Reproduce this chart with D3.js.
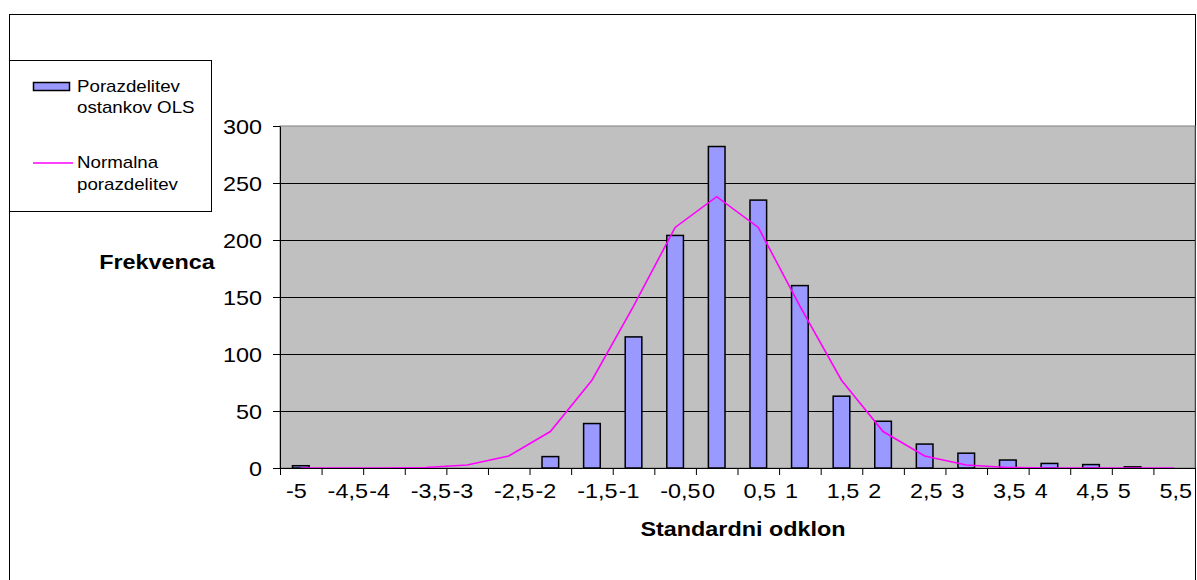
<!DOCTYPE html>
<html>
<head>
<meta charset="utf-8">
<script src="https://cdn.jsdelivr.net/npm/d3@7"></script>
<style>
  body { margin: 0; background: #fff; }
  text { font-family: Arial, "Liberation Sans", sans-serif; }
</style>
</head>
<body>
<div id="chart-area"></div>
<script>
// categories (standard deviation bins) and the two series
var categories = ["-5","-4,5","-4","-3,5","-3","-2,5","-2","-1,5","-1","-0,5","0",
                  "0,5","1","1,5","2","2,5","3","3,5","4","4,5","5","5,5"];
var ostanki = [2,0,0,0,0,0,10,39,115,204,282,235,160,63,41,21,13,7,4,3,1,0];
var normalna = [0,0,0,0.4,2.6,10.5,32,77,142,211,238,211,142,77,32,10.5,2.6,0.4,0,0,0,0];
var yTicks = [0,50,100,150,200,250,300];

var margin = {top: 126, right: 2, bottom: 112, left: 280};
var width = 1197 - margin.left - margin.right;
var height = 580 - margin.top - margin.bottom;
var sx = 1.17; // text in the picture is a bit wide

var svg = d3.select("#chart-area")
    .append("svg")
    .attr("width", 1197)
    .attr("height", 580);

// outer chart border
svg.append("rect")
    .attr("x", 9.5).attr("y", 14.5)
    .attr("width", 1186).attr("height", 600)
    .attr("fill", "none").attr("stroke", "#000");

var g = svg.append("g")
    .attr("transform", "translate(" + margin.left + ", " + margin.top + ")");

var x = d3.scaleBand()
    .domain(categories)
    .range([0, width]);

var xEdge = d3.scaleLinear()
    .domain([0, categories.length])
    .range([0, width]);

var y = d3.scaleLinear()
    .domain([0, 300])
    .range([height, 0]);

// plot area
g.append("rect")
    .attr("width", width)
    .attr("height", height)
    .attr("fill", "#c0c0c0")
    .attr("stroke", "#808080");

// gridlines
g.selectAll(".grid").data(yTicks.filter((d) => { return d > 0 && d < 300; }))
    .enter().append("line")
    .attr("class", "grid")
    .attr("x1", 0).attr("x2", width)
    .attr("y1", (d) => { return Math.round(y(d)) + 0.5; })
    .attr("y2", (d) => { return Math.round(y(d)) + 0.5; })
    .attr("stroke", "#000");

// bars
var barW = x.bandwidth() * 0.4;
g.selectAll(".bar").data(ostanki)
    .enter().append("rect")
    .attr("class", "bar")
    .attr("x", (d, i) => { return x(categories[i]) + (x.bandwidth() - barW) / 2; })
    .attr("y", (d) => { return y(d); })
    .attr("width", barW)
    .attr("height", (d) => { return height - y(d); })
    .attr("fill", "#9999ff")
    .attr("stroke", "#000")
    .attr("stroke-width", 1.5);

// normal curve
var line = d3.line()
    .x((d, i) => { return x(categories[i]) + x.bandwidth() / 2; })
    .y((d) => { return y(d); });

g.append("path")
    .datum(normalna)
    .attr("d", line)
    .attr("fill", "none")
    .attr("stroke", "#ff00ff")
    .attr("stroke-width", 1.6);

// left y axis
var yAxisCall = d3.axisLeft(y)
    .tickValues(yTicks)
    .tickSize(7)
    .tickSizeOuter(0);

var yAx = g.append("g")
    .attr("class", "left axis")
    .call(yAxisCall)
    .attr("font-size", 20)
    .attr("font-family", "Arial, 'Liberation Sans', sans-serif");
yAx.selectAll("text")
    .attr("x", -18 / sx)
    .attr("dy", "0.36em")
    .attr("fill", "#000")
    .attr("transform", "scale(" + sx + ",1)");
yAx.selectAll("line, path").attr("stroke", "#000");

// bottom axis: tick marks on category edges
var edgeAxis = d3.axisBottom(xEdge)
    .tickValues(d3.range(categories.length + 1))
    .tickSize(7)
    .tickSizeOuter(0)
    .tickFormat("");
var xAx = g.append("g")
    .attr("class", "bottom axis")
    .attr("transform", "translate(0, " + height + ")")
    .call(edgeAxis);
xAx.selectAll("line, path").attr("stroke", "#000");

// bottom axis labels, excel puts them near the left of each category
var labelAxis = d3.axisBottom(x).tickSize(0);
var xLab = g.append("g")
    .attr("class", "bottom labels")
    .attr("transform", "translate(0, " + height + ")")
    .call(labelAxis)
    .attr("font-size", 20)
    .attr("font-family", "Arial, 'Liberation Sans', sans-serif");
xLab.select(".domain").remove();
xLab.selectAll("text")
    .attr("x", (-x.bandwidth() / 2 + 6) / sx)
    .attr("y", 30)
    .attr("dy", 0)
    .attr("text-anchor", "start")
    .attr("fill", "#000")
    .attr("transform", "scale(" + sx + ",1)");

// x axis label
svg.append("text")
    .attr("transform", "translate(743, 536) scale(" + sx + ",1)")
    .attr("font-size", "20px")
    .attr("font-weight", "bold")
    .attr("text-anchor", "middle")
    .text("Standardni odklon");

// y axis label
svg.append("text")
    .attr("transform", "translate(157, 269) scale(" + sx + ",1)")
    .attr("font-size", "20px")
    .attr("font-weight", "bold")
    .attr("text-anchor", "middle")
    .text("Frekvenca");

// legend
var legend = svg.append("g").attr("class", "legend");
legend.append("rect")
    .attr("x", 9.5).attr("y", 60.5)
    .attr("width", 202).attr("height", 151)
    .attr("fill", "#fff").attr("stroke", "#000");
legend.append("rect")
    .attr("x", 33.5).attr("y", 82.5)
    .attr("width", 36).attr("height", 8)
    .attr("fill", "#9999ff").attr("stroke", "#000").attr("stroke-width", 1.5);
legend.append("line")
    .attr("x1", 33).attr("x2", 73)
    .attr("y1", 163).attr("y2", 163)
    .attr("stroke", "#ff00ff").attr("stroke-width", 1.6);

var legendLines = [
    ["Porazdelitev", 92], ["ostankov OLS", 113],
    ["Normalna", 168], ["porazdelitev", 190]
];
legend.selectAll(".ltext").data(legendLines)
    .enter().append("text")
    .attr("class", "ltext")
    .attr("transform", (d) => { return "translate(77, " + d[1] + ") scale(" + sx + ",1)"; })
    .attr("font-size", "16px")
    .text((d) => { return d[0]; });
</script>
</body>
</html>
